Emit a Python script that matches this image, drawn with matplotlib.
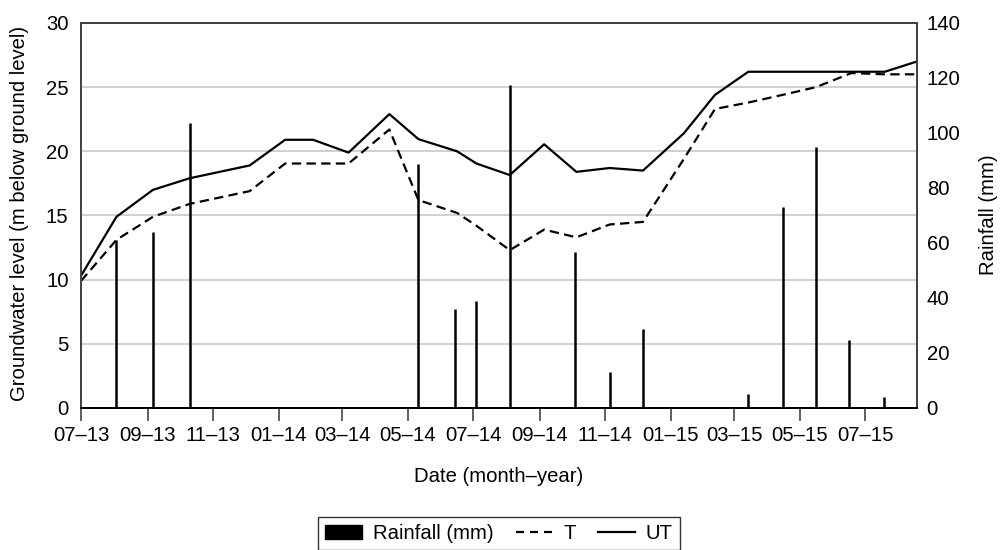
import matplotlib
matplotlib.use('Agg')
import matplotlib.pyplot as plt
import matplotlib.dates as mdates
import pandas as pd
from matplotlib.patches import Patch
from matplotlib.lines import Line2D

plt.rcParams['font.family'] = ['Liberation Sans', 'DejaVu Sans']

# ---- data ----
level_dates = ['2013-07-01', '2013-08-03', '2013-09-06', '2013-10-10', '2013-12-05',
               '2014-01-07', '2014-02-02', '2014-03-07', '2014-04-14', '2014-05-11',
               '2014-06-16', '2014-07-04', '2014-08-04', '2014-09-05', '2014-10-05',
               '2014-11-05', '2014-12-06', '2015-01-13', '2015-02-11', '2015-03-14',
               '2015-04-15', '2015-05-16', '2015-06-18', '2015-07-19', '2015-08-18']
ut_level = [10.3, 14.9, 17.0, 17.9, 18.9,
            20.9, 20.9, 19.9, 22.9, 20.95,
            20.0, 19.05, 18.15, 20.55, 18.4,
            18.7, 18.5, 21.4, 24.4, 26.2,
            26.2, 26.2, 26.2, 26.2, 27.0]
t_level = [9.9, 13.1, 14.9, 15.9, 16.9,
           19.05, 19.05, 19.05, 21.7, 16.2,
           15.2, 14.2, 12.3, 13.9, 13.3,
           14.3, 14.5, 19.4, 23.3, 23.8,
           24.4, 25.0, 26.1, 26.0, 26.0]

rain_dates = ['2013-08-03', '2013-09-06', '2013-10-10', '2014-05-11', '2014-06-14',
              '2014-07-04', '2014-08-04', '2014-10-04', '2014-11-05', '2014-12-06',
              '2015-03-14', '2015-04-15', '2015-05-16', '2015-06-16', '2015-07-18']
rain_mm = [61.1, 64.1, 103.5, 88.6, 35.9,
           39.0, 117.5, 56.8, 13.2, 28.6,
           5.1, 73.2, 95.0, 24.7, 3.9]

x_start = '2013-07-01'
x_end = '2015-08-18'

level_x = pd.to_datetime(level_dates)
rain_x = pd.to_datetime(rain_dates)

FS = 14.6

# ---- figure ----
fig = plt.figure(figsize=(10, 5.5), dpi=100)
ax = fig.add_axes([0.081, 0.2582, 0.836, 0.700])
ax2 = ax.twinx()

spine_col = '#444444'
grid_col = '#c8c8c8'

ax.set_ylim(0, 30)
ax.set_yticks(range(0, 31, 5))
ax.grid(axis='y', color=grid_col, lw=1.2, zorder=0)
ax.set_axisbelow(True)

ax.plot(level_x, t_level, color='black', lw=1.6, ls=(0, (4.2, 2.4)), zorder=3)
ax.plot(level_x, ut_level, color='black', lw=1.6, ls='-', zorder=3)

ax2.vlines(rain_x, 0, rain_mm, color='black', lw=1.8)
ax2.set_ylim(0, 140)
ax2.set_yticks(range(0, 141, 20))

ax.set_xlim(pd.Timestamp(x_start), pd.Timestamp(x_end))
ax.xaxis.set_major_locator(mdates.MonthLocator(bymonth=[1, 3, 5, 7, 9, 11]))
ax.xaxis.set_major_formatter(mdates.DateFormatter('%m\u2013%y'))

for a in (ax, ax2):
    for s in ('left', 'right', 'top'):
        a.spines[s].set_color(spine_col)
        a.spines[s].set_linewidth(1.4)
    a.spines['bottom'].set_color('black')
    a.spines['bottom'].set_linewidth(1.4)

ax.tick_params(axis='y', length=0, pad=9, labelsize=FS)
ax2.tick_params(axis='y', length=0, pad=7, labelsize=FS)
ax.tick_params(axis='x', length=9, width=1.2, color=spine_col, direction='out',
               pad=4, labelsize=FS)

fig.text(0.020, 1 - 213 / 550, 'Groundwater level (m below ground level)',
         rotation=90, ha='center', va='center', fontsize=FS)
fig.text(0.988, 1 - 215 / 550, 'Rainfall (mm)', rotation=90,
         ha='center', va='center', fontsize=FS)
fig.text(0.499, 1 - 476 / 550, 'Date (month\u2013year)', ha='center',
         va='center', fontsize=FS)

handles = [Patch(facecolor='black', edgecolor='black'),
           Line2D([], [], color='black', lw=1.6, ls=(0, (3.6, 2.7))),
           Line2D([], [], color='black', lw=1.6, ls='-')]
labels = ['Rainfall (mm)', 'T', 'UT']
leg = fig.legend(handles, labels, loc='upper center', bbox_to_anchor=(0.499, 1 - 517 / 550),
                 ncol=3, frameon=True, fancybox=False, edgecolor='black', fontsize=FS,
                 handlelength=1.8, handleheight=0.65, columnspacing=1.1, borderpad=0.35,
                 handletextpad=0.55, borderaxespad=0)
leg.get_frame().set_linewidth(1.0)

fig.savefig('out.png', dpi=100)
